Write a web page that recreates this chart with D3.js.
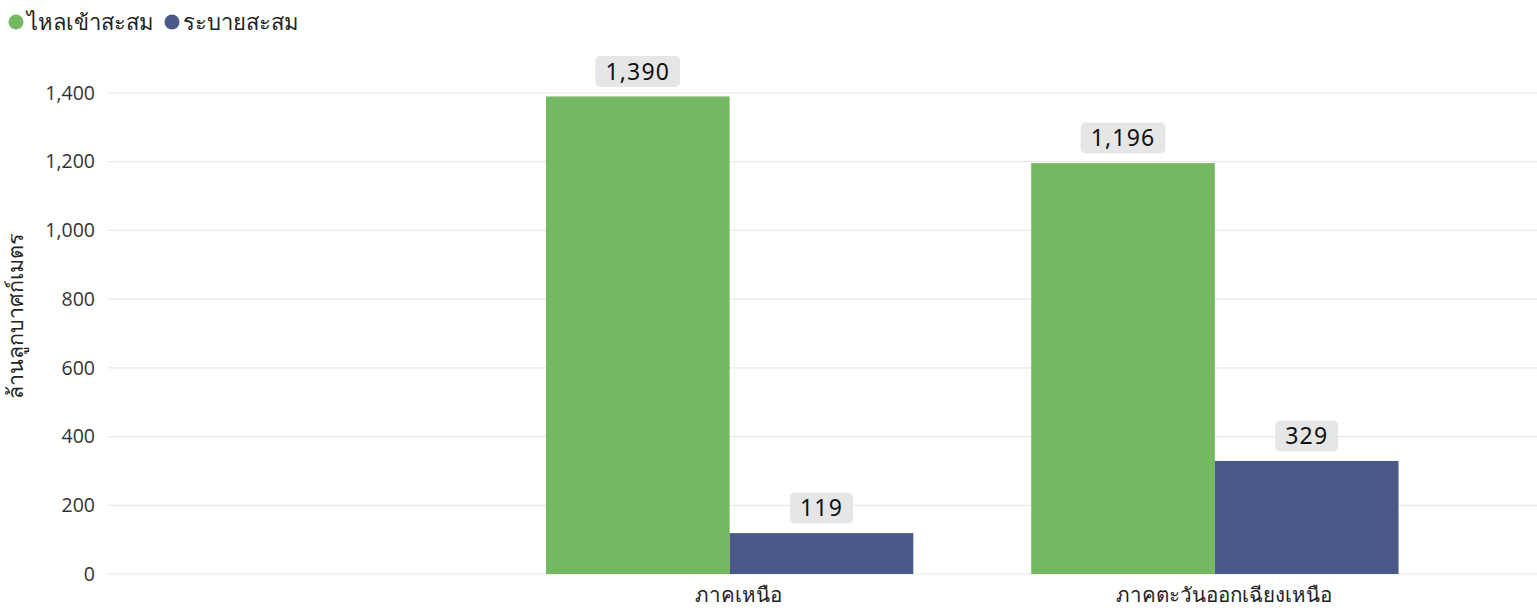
<!DOCTYPE html>
<html><head><meta charset="utf-8">
<script src="https://cdn.jsdelivr.net/npm/d3@7"></script>
<style>
body{margin:0;background:#fff;}
svg{display:block;font-family:"Noto Sans","Open Sans",sans-serif;}
</style></head><body>
<svg id="c" width="1537" height="615"></svg>
<script>
const categories = ["ภาคเหนือ", "ภาคตะวันออกเฉียงเหนือ"];
const seriesNames = ["ไหลเข้าสะสม", "ระบายสะสม"];
const inflow = [1390, 1196];
const outflow = [119, 329];
const yTicks = [0, 200, 400, 600, 800, 1000, 1200, 1400];
const colors = ["#74b862", "#4b5989"];
const yTitle = "ล้านลูกบาศก์เมตร";

const svg = d3.select("#c");
const plotLeft = 108, plotRight = 1537;
const y = d3.scaleLinear().domain([0, 1400]).range([574, 93]);
const x0 = d3.scaleBand().domain(categories).range([487, 1457.5]).paddingInner(0.243).paddingOuter(0.1215);
const x1 = d3.scaleBand().domain(seriesNames).range([0, x0.bandwidth()]);
const fmt = d3.format(",");

// grid
svg.append("g").selectAll("line").data(yTicks).join("line")
  .attr("x1", plotLeft).attr("x2", plotRight)
  .attr("y1", d => y(d)).attr("y2", d => y(d))
  .attr("stroke", "#e9e9e9").attr("stroke-width", 1.2);

// y axis labels
const yAxis = d3.axisLeft(y).tickValues(yTicks).tickFormat(fmt).tickSize(0).tickPadding(0);
const ga = svg.append("g").attr("transform", `translate(95,0)`).call(yAxis);
ga.select(".domain").remove();
ga.selectAll("text").attr("font-size", 19.5).attr("fill", "#333").attr("font-family", "Open Sans, Noto Sans, sans-serif");

// y title
svg.append("text").attr("transform", "translate(23,316) rotate(-90)")
  .attr("text-anchor", "middle").attr("font-size", 21.5).attr("fill", "#222").text(yTitle);

// x axis labels
const xAxis = d3.axisBottom(x0).tickSize(0).tickPadding(0);
const gx = svg.append("g").attr("transform", "translate(9,584)").call(xAxis);
gx.select(".domain").remove();
gx.selectAll("text").attr("font-size", 20.5).attr("fill", "#222").attr("dy", "0.9em");

const data = categories.map((c, i) => ({c, vals: [inflow[i], outflow[i]]}));
const groups = svg.append("g").selectAll("g").data(data).join("g")
  .attr("transform", d => `translate(${x0(d.c)},0)`);

groups.selectAll("rect").data(d => d.vals.map((v, j) => ({v, s: seriesNames[j], j})))
  .join("rect")
  .attr("x", d => x1(d.s)).attr("width", x1.bandwidth())
  .attr("y", d => y(d.v)).attr("height", d => y(0) - y(d.v))
  .attr("fill", d => colors[d.j]);

// value labels
const lab = groups.selectAll("g.lab").data(d => d.vals.map((v, j) => ({v, s: seriesNames[j], j})))
  .join("g").attr("class", "lab")
  .attr("transform", d => `translate(${x1(d.s) + x1.bandwidth() / 2},${y(d.v) - 25})`);
lab.each(function(d) {
  const g = d3.select(this);
  const t = g.append("text").attr("text-anchor", "middle").attr("dy", "0.36em")
    .attr("font-size", 23).attr("fill", "#111").attr("letter-spacing", 1.2)
    .attr("font-family", "Noto Sans, sans-serif")
    .text(fmt(d.v));
  const bb = t.node().getBBox();
  const w = bb.width + 20;
  g.insert("rect", "text").attr("x", -w / 2).attr("y", -15.5).attr("width", w).attr("height", 31)
    .attr("rx", 5).attr("fill", "#e6e6e6");
});

// legend
const leg = svg.append("g");
const legX = [16, 172];
seriesNames.forEach((s, i) => {
  leg.append("circle").attr("cx", legX[i]).attr("cy", 22).attr("r", 7.5).attr("fill", colors[i]);
  leg.append("text").attr("x", legX[i] + 11).attr("y", 22).attr("dy", "0.35em")
    .attr("font-size", 22).attr("fill", "#222").text(s);
});
</script>
</body></html>
